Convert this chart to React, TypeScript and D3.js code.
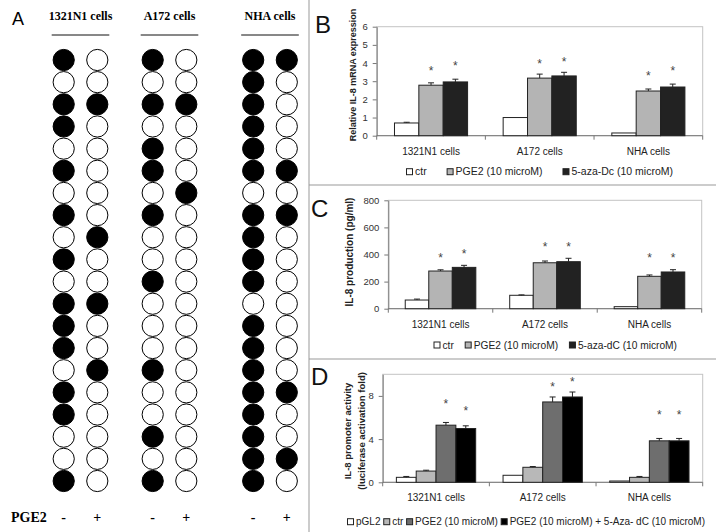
import React, { useEffect, useRef } from "react";
import * as d3 from "d3";

const cellLines = ["1321N1 cells", "A172 cells", "NHA cells"];
const pgeLabels = ["-", "+"];

// panel A: CpG methylation, 1 = methylated (black circle), 20 sites top to bottom
const cpg1321Minus = [1, 0, 1, 1, 0, 1, 0, 1, 0, 1, 0, 1, 1, 1, 0, 1, 1, 0, 0, 1];
const cpg1321Plus = [0, 0, 1, 0, 0, 0, 0, 0, 1, 0, 0, 1, 0, 0, 1, 0, 0, 0, 0, 0];
const cpgA172Minus = [1, 0, 1, 0, 1, 1, 0, 1, 0, 0, 1, 0, 0, 0, 1, 0, 0, 1, 0, 1];
const cpgA172Plus = [0, 0, 1, 0, 0, 0, 1, 0, 0, 0, 0, 0, 0, 0, 0, 0, 0, 0, 0, 0];
const cpgNhaMinus = [1, 1, 1, 1, 1, 1, 0, 1, 1, 1, 1, 0, 1, 1, 1, 1, 1, 1, 1, 1];
const cpgNhaPlus = [1, 0, 0, 0, 0, 1, 0, 1, 0, 0, 0, 0, 0, 0, 0, 1, 0, 0, 1, 0];

// panel B: relative IL-8 mRNA expression
const mrnaCtr = [0.7, 1.0, 0.15];
const mrnaCtrErr = [0.04, 0, 0];
const mrnaPge2 = [2.78, 3.17, 2.46];
const mrnaPge2Err = [0.13, 0.22, 0.11];
const mrnaAza = [2.96, 3.29, 2.68];
const mrnaAzaErr = [0.15, 0.2, 0.16];
const mrnaStarPge2 = [3.71, 4.09, 3.47];
const mrnaStarAza = [3.98, 4.24, 3.71];

// panel C: IL-8 production (pg/ml)
const protCtr = [64, 99, 15];
const protCtrErr = [7, 3, 0];
const protPge2 = [278, 339, 239];
const protPge2Err = [9, 13, 10];
const protAza = [305, 347, 271];
const protAzaErr = [15, 25, 17];
const protStarPge2 = [394, 475, 394];
const protStarAza = [426, 475, 394];

// panel D: IL-8 promoter activity
const lucPgl2 = [0.46, 0.65, 0.12];
const lucPgl2Err = [0.08, 0, 0];
const lucCtr = [1.04, 1.39, 0.46];
const lucCtrErr = [0.08, 0.07, 0.08];
const lucPge2 = [5.29, 7.44, 3.84];
const lucPge2Err = [0.25, 0.46, 0.22];
const lucAza = [4.98, 7.9, 3.84];
const lucAzaErr = [0.25, 0.46, 0.22];
const lucStarPge2 = [7.5, 9.14, 6.52];
const lucStarAza = [6.9, 9.6, 6.52];

const SANS = "'Liberation Sans', Arial, sans-serif";
const SERIF = "'Liberation Serif', 'Times New Roman', serif";

function drawBarPanel(svg, p) {
  const g = svg.append("g");
  const x0 = d3.scaleBand().domain(cellLines).range([p.left, p.right]);
  const x1 = d3
    .scaleBand()
    .domain(p.series.map((s) => s.name))
    .range([0, x0.bandwidth()])
    .paddingOuter(p.outerPad);
  const y = d3.scaleLinear().domain([0, p.max]).range([p.bottom, p.top]);

  // plot frame (light) then axes
  g.append("rect")
    .attr("x", p.left)
    .attr("y", p.top)
    .attr("width", p.right - p.left)
    .attr("height", p.bottom - p.top)
    .attr("fill", "none")
    .attr("stroke", "#c4c4c4");

  const ya = g
    .append("g")
    .attr("transform", `translate(${p.left},0)`)
    .call(
      d3.axisLeft(y).tickValues(p.ticks).tickFormat(d3.format("d")).tickSize(4).tickPadding(5).tickSizeOuter(0)
    );
  ya.select(".domain").attr("stroke", "#777");
  ya.selectAll(".tick line").attr("stroke", "#777");
  ya.selectAll("text").attr("font-family", SANS).attr("font-size", 9.5).attr("fill", "#333");

  g.append("line")
    .attr("x1", p.left)
    .attr("x2", p.right)
    .attr("y1", p.bottom)
    .attr("y2", p.bottom)
    .attr("stroke", "#777");
  const bounds = cellLines.map((c) => x0(c)).concat([p.right]);
  g.selectAll(".xtick")
    .data(bounds)
    .enter()
    .append("line")
    .attr("x1", (d) => d)
    .attr("x2", (d) => d)
    .attr("y1", p.bottom)
    .attr("y2", p.bottom + 4)
    .attr("stroke", "#777");
  g.selectAll(".xlab")
    .data(cellLines)
    .enter()
    .append("text")
    .attr("x", (d) => x0(d) + x0.bandwidth() / 2)
    .attr("y", p.bottom + 19)
    .attr("text-anchor", "middle")
    .attr("font-family", SANS)
    .attr("font-size", 10)
    .attr("fill", "#222")
    .text((d) => d);

  p.series.forEach((s) => {
    const sg = g.append("g");
    sg.selectAll("rect")
      .data(s.values)
      .enter()
      .append("rect")
      .attr("x", (d, i) => x0(cellLines[i]) + x1(s.name))
      .attr("y", (d) => y(d))
      .attr("width", x1.bandwidth())
      .attr("height", (d) => y(0) - y(d))
      .attr("fill", s.color)
      .attr("stroke", "#222")
      .attr("stroke-width", 1);

    const cx = (i) => x0(cellLines[i]) + x1(s.name) + x1.bandwidth() / 2;
    s.errs.forEach((e, i) => {
      if (!e) return;
      const top = y(s.values[i] + e);
      sg.append("line").attr("x1", cx(i)).attr("x2", cx(i)).attr("y1", y(s.values[i])).attr("y2", top).attr("stroke", "#222");
      sg.append("line").attr("x1", cx(i) - 3).attr("x2", cx(i) + 3).attr("y1", top).attr("y2", top).attr("stroke", "#222");
    });
    if (s.stars) {
      sg.selectAll(".star")
        .data(s.stars)
        .enter()
        .append("text")
        .attr("x", (d, i) => cx(i))
        .attr("y", (d) => y(d) + 7)
        .attr("text-anchor", "middle")
        .attr("font-family", SANS)
        .attr("font-size", 12)
        .attr("fill", "#444")
        .text("*");
    }
  });

  // legend: items laid out left to right, equal gaps between legendStart and legendEnd
  const lg = g.append("g");
  const items = p.series.map((s) => {
    const sq = lg
      .append("rect")
      .attr("y", p.legendY - 3)
      .attr("width", 6)
      .attr("height", 6)
      .attr("fill", s.color)
      .attr("stroke", "#222");
    const tx = lg
      .append("text")
      .attr("y", p.legendY + 3.6)
      .attr("font-family", SANS)
      .attr("font-size", p.legendSize)
      .attr("fill", "#222")
      .text(s.name);
    return { sq, tx, w: tx.node().getComputedTextLength() };
  });
  const used = d3.sum(items, (d) => d.w + 8.5);
  const gap = (p.legendEnd - p.legendStart - used) / (items.length - 1);
  let lx = p.legendStart;
  items.forEach((it) => {
    it.sq.attr("x", lx);
    it.tx.attr("x", lx + 8.5);
    lx += 8.5 + it.w + gap;
  });

  // y title
  p.yTitle.forEach((t, i) => {
    g.append("text")
      .attr("transform", `translate(${p.yTitleX[i]},${p.yTitleY}) rotate(-90)`)
      .attr("text-anchor", "middle")
      .attr("font-family", SANS)
      .attr("font-weight", "bold")
      .attr("font-size", p.yTitleSize)
      .attr("fill", "#222")
      .text(t);
  });

  g.append("text")
    .attr("x", p.letterX)
    .attr("y", p.letterY)
    .attr("font-family", SANS)
    .attr("font-size", 24)
    .attr("fill", "#111")
    .text(p.letter);
}

function App() {
  const svgRef = useRef(null);

  useEffect(() => {
    const svg = d3.select(svgRef.current);
    svg.selectAll("*").remove();
    svg.append("rect").attr("width", 716).attr("height", 532).attr("fill", "#fff");

    // separators
    svg.append("line").attr("x1", 309).attr("x2", 309).attr("y1", 0).attr("y2", 532).attr("stroke", "#999");
    svg.append("line").attr("x1", 309).attr("x2", 716).attr("y1", 185).attr("y2", 185).attr("stroke", "#999");
    svg.append("line").attr("x1", 309).attr("x2", 716).attr("y1", 359).attr("y2", 359).attr("stroke", "#999");

    // ---- panel A ----
    const cpgColumns = [
      [cpg1321Minus, cpg1321Plus],
      [cpgA172Minus, cpgA172Plus],
      [cpgNhaMinus, cpgNhaPlus],
    ];
    const groupX = d3.scaleOrdinal().domain(cellLines).range([80.5, 169.5, 270]);
    const sub = d3.scalePoint().domain(pgeLabels).range([-16.8, 16.8]);
    const rowY = d3.scalePoint().domain(d3.range(20)).range([60, 481]);

    const ga = svg.append("g");
    ga.append("text").attr("x", 12).attr("y", 25).attr("font-family", SANS).attr("font-size", 18).text("A");

    cellLines.forEach((cl, gi) => {
      const gx = groupX(cl);
      ga.append("text")
        .attr("x", gx)
        .attr("y", 19.5)
        .attr("text-anchor", "middle")
        .attr("font-family", SERIF)
        .attr("font-weight", "bold")
        .attr("font-size", 12)
        .text(cl);
      ga.append("line")
        .attr("x1", gx + sub("-") - 12)
        .attr("x2", gx + sub("+") + 12)
        .attr("y1", 35)
        .attr("y2", 35)
        .attr("stroke", "#111");
      pgeLabels.forEach((pl, ci) => {
        ga.selectAll(null)
          .data(cpgColumns[gi][ci])
          .enter()
          .append("circle")
          .attr("cx", gx + sub(pl))
          .attr("cy", (d, i) => rowY(i))
          .attr("r", 10.6)
          .attr("fill", (d) => (d ? "#000" : "#fff"))
          .attr("stroke", "#000")
          .attr("stroke-width", 1);
        ga.append("text")
          .attr("x", gx + sub(pl))
          .attr("y", 522)
          .attr("text-anchor", "middle")
          .attr("font-family", SERIF)
          .attr("font-weight", "bold")
          .attr("font-size", 14)
          .text(pl);
      });
    });
    ga.append("text")
      .attr("x", 11)
      .attr("y", 522)
      .attr("font-family", SERIF)
      .attr("font-weight", "bold")
      .attr("font-size", 14)
      .text("PGE2");

    // ---- panel B ----
    drawBarPanel(svg, {
      left: 376.7, right: 702.7, top: 26.7, bottom: 135.7,
      max: 6, ticks: [0, 1, 2, 3, 4, 5, 6], outerPad: 0.73,
      series: [
        { name: "ctr", values: mrnaCtr, errs: mrnaCtrErr, color: "#fff" },
        { name: "PGE2 (10 microM)", values: mrnaPge2, errs: mrnaPge2Err, color: "#b4b4b4", stars: mrnaStarPge2 },
        { name: "5-aza-Dc (10 microM)", values: mrnaAza, errs: mrnaAzaErr, color: "#222", stars: mrnaStarAza },
      ],
      legendStart: 406.5, legendEnd: 673, legendY: 171.7, legendSize: 10.5,
      yTitle: ["Relative IL-8 mRNA expression"], yTitleX: [355.5], yTitleY: 75, yTitleSize: 9,
      letter: "B", letterX: 315, letterY: 33,
    });

    // ---- panel C ----
    drawBarPanel(svg, {
      left: 388.3, right: 701.7, top: 200.3, bottom: 308.7,
      max: 800, ticks: [0, 200, 400, 600, 800], outerPad: 0.72,
      series: [
        { name: "ctr", values: protCtr, errs: protCtrErr, color: "#fff" },
        { name: "PGE2 (10 microM)", values: protPge2, errs: protPge2Err, color: "#b4b4b4", stars: protStarPge2 },
        { name: "5-aza-dC (10 microM)", values: protAza, errs: protAzaErr, color: "#222", stars: protStarAza },
      ],
      legendStart: 434, legendEnd: 677, legendY: 345, legendSize: 10.2,
      yTitle: ["IL-8 production (pg/ml)"], yTitleX: [352.5], yTitleY: 252, yTitleSize: 10,
      letter: "C", letterX: 311, letterY: 217,
    });

    // ---- panel D ----
    drawBarPanel(svg, {
      left: 382.7, right: 702.7, top: 374.3, bottom: 482.3,
      max: 10, ticks: [0, 4, 8], outerPad: 0.69,
      series: [
        { name: "pGL2", values: lucPgl2, errs: lucPgl2Err, color: "#fff" },
        { name: "ctr", values: lucCtr, errs: lucCtrErr, color: "#b8b8b8" },
        { name: "PGE2 (10 microM)", values: lucPge2, errs: lucPge2Err, color: "#6e6e6e", stars: lucStarPge2 },
        { name: "PGE2 (10 microM) + 5-Aza- dC (10 microM)", values: lucAza, errs: lucAzaErr, color: "#000", stars: lucStarAza },
      ],
      legendStart: 347.5, legendEnd: 705, legendY: 521.7, legendSize: 10,
      yTitle: ["IL-8 promoter activity", "(luciferase activation fold)"], yTitleX: [351, 365], yTitleY: 431, yTitleSize: 9.5,
      letter: "D", letterX: 311, letterY: 385,
    });
  }, []);

  return (
    <svg
      ref={svgRef}
      width={716}
      height={532}
      style={{ position: "absolute", left: 0, top: 0 }}
    ></svg>
  );
}

export default App;
